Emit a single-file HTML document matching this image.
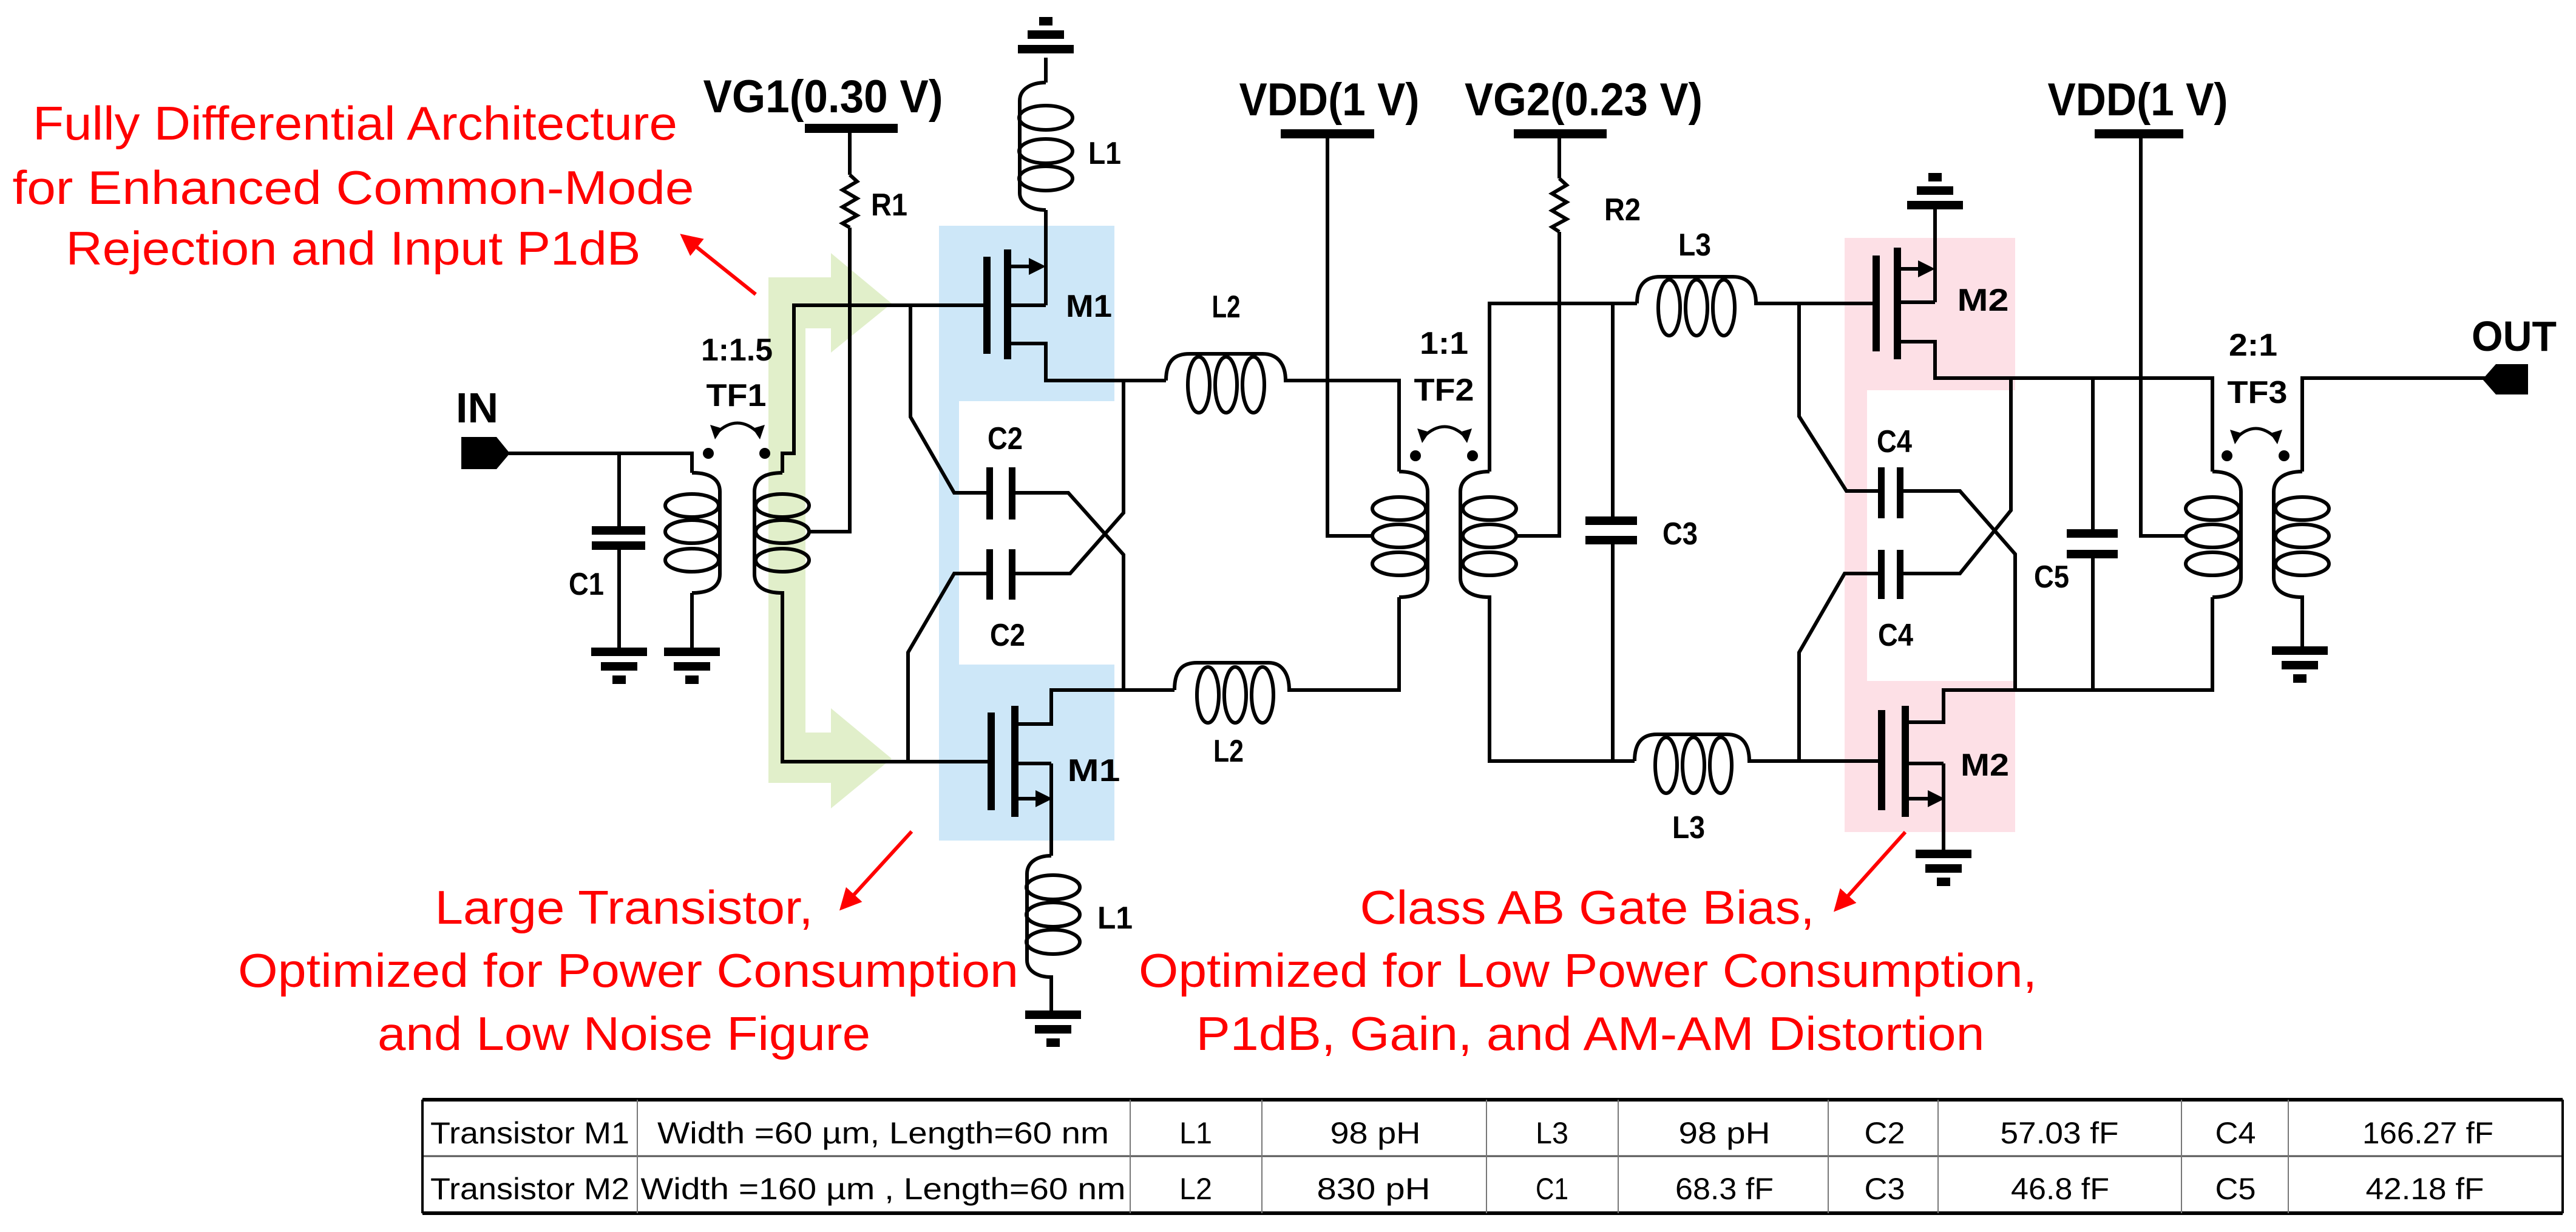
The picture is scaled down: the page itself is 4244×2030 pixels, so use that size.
<!DOCTYPE html>
<html><head><meta charset="utf-8"><style>html,body{margin:0;padding:0;background:#fff}svg{display:block}</style></head><body>
<svg xmlns="http://www.w3.org/2000/svg" width="4244" height="2030" viewBox="0 0 4244 2030">
<defs>
<marker id="ra" markerWidth="6" markerHeight="6" refX="5" refY="3" orient="auto" markerUnits="strokeWidth"><path d="M0,0 L6,3 L0,6 z" fill="#f00"/></marker>
</defs>
<rect width="4244" height="2030" fill="#fff"/>
<!-- shaded regions -->
<path d="M1547,372 H1836 V661 H1580 V1095 H1836 V1385 H1547 Z" fill="#cde7f8"/>
<path d="M3039,392 H3320 V643 H3076 V1122 H3320 V1371 H3039 Z" fill="#fde0e6"/>
<path d="M1266,457 H1369 V417 L1469,500 L1369,581 V541 H1327 V1207 H1369 V1167 L1469,1250 L1369,1332 V1290 H1266 Z" fill="#e1efca"/>

<g fill="none" stroke="#000" stroke-width="6" stroke-linejoin="miter">
<!-- IN / C1 / TF1 primary -->
<path d="M838,747 H1140 V779"/>
<path d="M1020,747 V867 M1020,906 V1074"/>
<path d="M1140,977 V1074"/>
<path d="M1140,779 C1170,779 1186,790 1186,810 V946 C1186,966 1170,977 1140,977"/>
<ellipse cx="1140" cy="833" rx="44" ry="19"/><ellipse cx="1140" cy="876" rx="44" ry="19"/><ellipse cx="1140" cy="923" rx="44" ry="19"/>
<!-- TF1 secondary -->
<path d="M1289,779 V747 H1308 V503 H1621"/>
<path d="M1289,779 C1259,779 1243,790 1243,810 V946 C1243,966 1259,977 1289,977 V1255 H1627"/>
<ellipse cx="1289" cy="833" rx="44" ry="19"/><ellipse cx="1289" cy="876" rx="44" ry="19"/><ellipse cx="1289" cy="923" rx="44" ry="19"/>
<path d="M1333,876 H1400 V375 M1400,288 V211"/>
<path d="M1400,288 L1412,299 L1388,313 L1412,327 L1388,341 L1412,355 L1388,368 L1400,375"/>
<!-- TF1 arc -->
<path d="M1180,714 Q1215,680 1250,714" stroke-width="5"/>
<!-- M1 top -->
<path d="M1723,95 V136 M1723,346 V503 M1666,503 H1723 M1666,439 H1700 M1666,566 H1723 V627 H1921"/>
<path d="M1723,136 C1700,136 1680,146 1680,166 V318 C1680,336 1700,346 1723,346"/>
<ellipse cx="1723" cy="194" rx="44" ry="20"/><ellipse cx="1723" cy="249" rx="44" ry="20"/><ellipse cx="1723" cy="294" rx="44" ry="20"/>
<!-- cross caps M1 -->
<path d="M1500,503 V687 L1572,812 H1628 M1673,812 H1760 L1851,914 V1137"/>
<path d="M1851,627 V845 L1763,945 H1673 M1628,945 H1572 L1496,1075 V1255"/>
<!-- L2 top -->
<path d="M1921,627 C1921,590 1940,583 1960,583 H2080 C2105,583 2118,600 2118,627 H2305 V777"/>
<ellipse cx="1975" cy="634" rx="18" ry="46"/><ellipse cx="2020" cy="634" rx="18" ry="46"/><ellipse cx="2065" cy="634" rx="18" ry="46"/>
<!-- M1 bottom -->
<path d="M1678,1193 H1732 V1137 H1935 M1678,1258 H1732 M1678,1316 H1710 M1732,1258 V1410"/>
<path d="M1732,1410 C1710,1410 1692,1420 1692,1440 V1582 C1692,1600 1710,1610 1732,1610 V1672"/>
<ellipse cx="1735" cy="1462" rx="44" ry="20"/><ellipse cx="1735" cy="1507" rx="44" ry="20"/><ellipse cx="1735" cy="1552" rx="44" ry="20"/>
<!-- L2 bottom -->
<path d="M1935,1137 C1935,1100 1952,1092 1972,1092 H2090 C2112,1092 2124,1110 2124,1137 H2305 V984"/>
<ellipse cx="1990" cy="1145" rx="18" ry="46"/><ellipse cx="2035" cy="1145" rx="18" ry="46"/><ellipse cx="2080" cy="1145" rx="18" ry="46"/>
<!-- TF2 -->
<path d="M2305,777 C2335,777 2352,790 2352,810 V952 C2352,972 2335,984 2305,984"/>
<ellipse cx="2305" cy="838" rx="44" ry="19"/><ellipse cx="2305" cy="883" rx="44" ry="19"/><ellipse cx="2305" cy="929" rx="44" ry="19"/>
<path d="M2454,777 C2424,777 2406,790 2406,810 V952 C2406,972 2424,984 2454,984 V1254 H2693"/>
<ellipse cx="2454" cy="838" rx="44" ry="19"/><ellipse cx="2454" cy="883" rx="44" ry="19"/><ellipse cx="2454" cy="929" rx="44" ry="19"/>
<path d="M2454,777 V500 H2697"/>
<path d="M2187,220 V883 H2261"/>
<path d="M2569,220 V294 M2569,382 V883 H2498"/>
<path d="M2569,294 L2581,305 L2557,319 L2581,333 L2557,347 L2581,361 L2557,374 L2569,382"/>
<path d="M2345,720 Q2380,686 2415,720" stroke-width="5"/>
<!-- C3 -->
<path d="M2657,500 V851 M2657,897 V1254"/>
<!-- L3 top -->
<path d="M2697,500 C2697,465 2715,456 2735,456 H2855 C2880,456 2893,472 2893,500 H3085"/>
<ellipse cx="2750" cy="507" rx="18" ry="46"/><ellipse cx="2795" cy="507" rx="18" ry="46"/><ellipse cx="2840" cy="507" rx="18" ry="46"/>
<!-- L3 bottom -->
<path d="M2693,1254 C2693,1219 2710,1210 2730,1210 H2845 C2870,1210 2882,1226 2882,1254 H3094"/>
<ellipse cx="2745" cy="1261" rx="18" ry="46"/><ellipse cx="2790" cy="1261" rx="18" ry="46"/><ellipse cx="2835" cy="1261" rx="18" ry="46"/>
<!-- M2 top -->
<path d="M3188,338 V498 M3131,498 H3188 M3131,443 H3165 M3131,563 H3188 V623 H3645 V777"/>
<!-- cross caps M2 -->
<path d="M2964,500 V686 L3042,809 H3097 M3132,809 H3229 L3320,913 V1137"/>
<path d="M3313,623 V841 L3229,945 H3132 M3097,945 H3039 L2964,1075 V1254"/>
<!-- C5 -->
<path d="M3448,623 V872 M3448,920 V1137"/>
<!-- M2 bottom -->
<path d="M3144,1190 H3202 V1137 H3645 V984 M3144,1258 H3202 M3144,1316 H3180 M3202,1258 V1407"/>
<!-- TF3 -->
<path d="M3645,777 C3675,777 3692,790 3692,810 V952 C3692,972 3675,984 3645,984"/>
<ellipse cx="3645" cy="838" rx="44" ry="19"/><ellipse cx="3645" cy="883" rx="44" ry="19"/><ellipse cx="3645" cy="929" rx="44" ry="19"/>
<path d="M3793,777 C3763,777 3746,790 3746,810 V952 C3746,972 3763,984 3793,984 V1072"/>
<ellipse cx="3793" cy="838" rx="44" ry="19"/><ellipse cx="3793" cy="883" rx="44" ry="19"/><ellipse cx="3793" cy="929" rx="44" ry="19"/>
<path d="M3793,777 V623 H4095"/>
<path d="M3527,220 V883 H3601"/>
<path d="M3684,722 Q3716,690 3750,722" stroke-width="5"/>
</g>

<g fill="#000">
<!-- IN / OUT connectors -->
<path d="M760,720 H818 L840,747 L818,773 H760 Z"/>
<path d="M4165,600 H4112 L4090,625 L4112,650 H4165 Z"/>
<!-- dots -->
<circle cx="1167" cy="747" r="9"/><circle cx="1260" cy="747" r="9"/>
<circle cx="2332" cy="751" r="9"/><circle cx="2426" cy="751" r="9"/>
<circle cx="3669" cy="751" r="9"/><circle cx="3763" cy="751" r="9"/>
<!-- arc arrowheads -->
<path d="M1170,700 L1190,706 L1178,724 Z M1260,700 L1240,706 L1252,724 Z"/>
<path d="M2335,706 L2355,712 L2343,730 Z M2425,706 L2405,712 L2417,730 Z"/>
<path d="M3674,708 L3694,714 L3682,732 Z M3760,708 L3740,714 L3752,732 Z"/>
<!-- supply bars -->
<rect x="1326" y="204" width="153" height="15"/>
<rect x="2110" y="213" width="154" height="15"/>
<rect x="2494" y="213" width="153" height="15"/>
<rect x="3451" y="213" width="146" height="15"/>
<!-- caps -->
<rect x="975" y="867" width="88" height="14"/><rect x="975" y="892" width="88" height="14"/>
<rect x="2612" y="851" width="85" height="14"/><rect x="2612" y="883" width="85" height="14"/>
<rect x="3405" y="872" width="84" height="14"/><rect x="3405" y="906" width="84" height="14"/>
<rect x="1625" y="770" width="11" height="86"/><rect x="1662" y="770" width="11" height="86"/>
<rect x="1625" y="905" width="11" height="83"/><rect x="1662" y="905" width="11" height="83"/>
<rect x="3094" y="770" width="11" height="84"/><rect x="3125" y="770" width="11" height="84"/>
<rect x="3094" y="906" width="11" height="81"/><rect x="3125" y="906" width="11" height="81"/>
<!-- transistors -->
<rect x="1620" y="423" width="12" height="160"/><rect x="1654" y="411" width="12" height="181"/>
<path d="M1695,425 L1723,439 L1695,453 Z"/>
<rect x="1627" y="1174" width="12" height="161"/><rect x="1666" y="1163" width="12" height="183"/>
<path d="M1706,1302 L1734,1316 L1706,1330 Z"/>
<rect x="3085" y="421" width="12" height="158"/><rect x="3120" y="408" width="12" height="184"/>
<path d="M3160,429 L3188,443 L3160,457 Z"/>
<rect x="3094" y="1170" width="12" height="165"/><rect x="3133" y="1163" width="12" height="183"/>
<path d="M3176,1302 L3204,1316 L3176,1330 Z"/>
<!-- grounds -->
<g id="gd"><rect x="-46" y="-7" width="92" height="14"/><rect x="-30" y="17" width="60" height="14"/><rect x="-11" y="39" width="22" height="14"/></g>
<use href="#gd" transform="translate(1020,1074)"/>
<use href="#gd" transform="translate(1140,1074)"/>
<use href="#gd" transform="translate(3789,1072)"/>
<use href="#gd" transform="translate(1735,1672)"/>
<use href="#gd" transform="translate(3202,1407)"/>
<use href="#gd" transform="translate(1723,81) scale(1,-1)"/>
<use href="#gd" transform="translate(3188,338) scale(1,-1)"/>
<!-- remove original gd at origin visibility -->
</g>
<rect x="0" y="0" width="60" height="60" fill="#fff"/>

<!-- labels -->
<g font-family="'Liberation Sans Narrow','Liberation Sans',sans-serif" font-weight="bold" fill="#000" text-anchor="middle" lengthAdjust="spacingAndGlyphs">
<text x="1356" y="185" font-size="76" textLength="395" lengthAdjust="spacingAndGlyphs">VG1(0.30 V)</text>
<text x="2190" y="190" font-size="76" textLength="297" lengthAdjust="spacingAndGlyphs">VDD(1 V)</text>
<text x="2609" y="190" font-size="76" textLength="392" lengthAdjust="spacingAndGlyphs">VG2(0.23 V)</text>
<text x="3522" y="190" font-size="76" textLength="297" lengthAdjust="spacingAndGlyphs">VDD(1 V)</text>
<text x="786" y="696" font-size="70" textLength="70" lengthAdjust="spacingAndGlyphs">IN</text>
<text x="4142" y="578" font-size="70" textLength="140" lengthAdjust="spacingAndGlyphs">OUT</text>
<g font-size="52">
<text x="1465" y="355" textLength="60" lengthAdjust="spacingAndGlyphs">R1</text>
<text x="1820" y="270" textLength="54" lengthAdjust="spacingAndGlyphs">L1</text>
<text x="1794" y="522" textLength="76" lengthAdjust="spacingAndGlyphs">M1</text>
<text x="2020" y="523" textLength="47" lengthAdjust="spacingAndGlyphs">L2</text>
<text x="1214" y="594" textLength="118" lengthAdjust="spacingAndGlyphs">1:1.5</text>
<text x="1213" y="669" textLength="99" lengthAdjust="spacingAndGlyphs">TF1</text>
<text x="966" y="980" textLength="58" lengthAdjust="spacingAndGlyphs">C1</text>
<text x="1656" y="740" textLength="58" lengthAdjust="spacingAndGlyphs">C2</text>
<text x="1660" y="1064" textLength="58" lengthAdjust="spacingAndGlyphs">C2</text>
<text x="1802" y="1287" textLength="87" lengthAdjust="spacingAndGlyphs">M1</text>
<text x="1837" y="1530" textLength="58" lengthAdjust="spacingAndGlyphs">L1</text>
<text x="2024" y="1255" textLength="50" lengthAdjust="spacingAndGlyphs">L2</text>
<text x="2379" y="583" textLength="80" lengthAdjust="spacingAndGlyphs">1:1</text>
<text x="2379" y="660" textLength="99" lengthAdjust="spacingAndGlyphs">TF2</text>
<text x="2673" y="363" textLength="60" lengthAdjust="spacingAndGlyphs">R2</text>
<text x="2792" y="421" textLength="54" lengthAdjust="spacingAndGlyphs">L3</text>
<text x="2782" y="1381" textLength="54" lengthAdjust="spacingAndGlyphs">L3</text>
<text x="2768" y="897" textLength="58" lengthAdjust="spacingAndGlyphs">C3</text>
<text x="3267" y="512" textLength="85" lengthAdjust="spacingAndGlyphs">M2</text>
<text x="3270" y="1278" textLength="80" lengthAdjust="spacingAndGlyphs">M2</text>
<text x="3121" y="745" textLength="58" lengthAdjust="spacingAndGlyphs">C4</text>
<text x="3123" y="1064" textLength="58" lengthAdjust="spacingAndGlyphs">C4</text>
<text x="3380" y="968" textLength="58" lengthAdjust="spacingAndGlyphs">C5</text>
<text x="3712" y="586" textLength="80" lengthAdjust="spacingAndGlyphs">2:1</text>
<text x="3719" y="664" textLength="99" lengthAdjust="spacingAndGlyphs">TF3</text>
</g>
</g>

<!-- red annotations -->
<g font-family="'Liberation Sans',sans-serif" fill="#f00" font-size="78" text-anchor="middle">
<text x="585" y="230" textLength="1062" lengthAdjust="spacingAndGlyphs">Fully Differential Architecture</text>
<text x="582" y="336" textLength="1123" lengthAdjust="spacingAndGlyphs">for  Enhanced  Common-Mode</text>
<text x="582" y="436" textLength="947" lengthAdjust="spacingAndGlyphs">Rejection  and  Input  P1dB</text>
<text x="1028" y="1522" textLength="623" lengthAdjust="spacingAndGlyphs">Large Transistor,</text>
<text x="1035" y="1626" textLength="1286" lengthAdjust="spacingAndGlyphs">Optimized for Power Consumption</text>
<text x="1028" y="1730" textLength="812" lengthAdjust="spacingAndGlyphs">and Low Noise Figure</text>
<text x="2615" y="1522" textLength="749" lengthAdjust="spacingAndGlyphs">Class AB Gate Bias,</text>
<text x="2616" y="1626" textLength="1480" lengthAdjust="spacingAndGlyphs">Optimized for Low Power Consumption,</text>
<text x="2620" y="1730" textLength="1299" lengthAdjust="spacingAndGlyphs">P1dB, Gain, and AM-AM Distortion</text>
</g>
<g stroke="#f00" stroke-width="6" fill="none" marker-end="url(#ra)">
<path d="M1245,485 L1125,389"/>
<path d="M1502,1370 L1387,1496"/>
<path d="M3139,1371 L3025,1498"/>
</g>

<!-- table -->
<g>
<rect x="696" y="1812" width="3526" height="187" fill="none" stroke="#888" stroke-width="2"/>
<line x1="696" y1="1812" x2="4222" y2="1812" stroke="#000" stroke-width="6"/>
<line x1="696" y1="1999" x2="4222" y2="1999" stroke="#000" stroke-width="6"/>
<line x1="696" y1="1905" x2="4222" y2="1905" stroke="#555" stroke-width="3"/>
<g stroke="#777" stroke-width="2">
<line x1="696" y1="1812" x2="696" y2="1999" stroke="#000" stroke-width="4"/>
<line x1="4222" y1="1812" x2="4222" y2="1999" stroke="#000" stroke-width="4"/>
<line x1="1050" y1="1812" x2="1050" y2="1999"/><line x1="1862" y1="1812" x2="1862" y2="1999"/>
<line x1="2079" y1="1812" x2="2079" y2="1999"/><line x1="2449" y1="1812" x2="2449" y2="1999"/>
<line x1="2666" y1="1812" x2="2666" y2="1999"/><line x1="3012" y1="1812" x2="3012" y2="1999"/>
<line x1="3193" y1="1812" x2="3193" y2="1999"/><line x1="3594" y1="1812" x2="3594" y2="1999"/>
<line x1="3770" y1="1812" x2="3770" y2="1999"/>
</g>
<g font-family="'Liberation Sans Narrow','Liberation Sans',sans-serif" font-size="50" fill="#000" text-anchor="middle">
<text x="873" y="1884" textLength="328" lengthAdjust="spacingAndGlyphs">Transistor M1</text>
<text x="1455" y="1884" textLength="744" lengthAdjust="spacingAndGlyphs">Width =60 µm, Length=60 nm</text>
<text x="1970" y="1884" textLength="54" lengthAdjust="spacingAndGlyphs">L1</text>
<text x="2266" y="1884" textLength="149" lengthAdjust="spacingAndGlyphs">98 pH</text>
<text x="2557" y="1884" textLength="54" lengthAdjust="spacingAndGlyphs">L3</text>
<text x="2841" y="1884" textLength="151" lengthAdjust="spacingAndGlyphs">98 pH</text>
<text x="3105" y="1884" textLength="67" lengthAdjust="spacingAndGlyphs">C2</text>
<text x="3393" y="1884" textLength="195" lengthAdjust="spacingAndGlyphs">57.03 fF</text>
<text x="3683" y="1884" textLength="67" lengthAdjust="spacingAndGlyphs">C4</text>
<text x="4000" y="1884" textLength="216" lengthAdjust="spacingAndGlyphs">166.27 fF</text>
<text x="873" y="1976" textLength="328" lengthAdjust="spacingAndGlyphs">Transistor M2</text>
<text x="1455" y="1976" textLength="799" lengthAdjust="spacingAndGlyphs">Width =160 µm , Length=60 nm</text>
<text x="1970" y="1976" textLength="54" lengthAdjust="spacingAndGlyphs">L2</text>
<text x="2263" y="1976" textLength="187" lengthAdjust="spacingAndGlyphs">830 pH</text>
<text x="2557" y="1976" textLength="54" lengthAdjust="spacingAndGlyphs">C1</text>
<text x="2841" y="1976" textLength="162" lengthAdjust="spacingAndGlyphs">68.3 fF</text>
<text x="3105" y="1976" textLength="67" lengthAdjust="spacingAndGlyphs">C3</text>
<text x="3394" y="1976" textLength="162" lengthAdjust="spacingAndGlyphs">46.8 fF</text>
<text x="3683" y="1976" textLength="67" lengthAdjust="spacingAndGlyphs">C5</text>
<text x="3995" y="1976" textLength="195" lengthAdjust="spacingAndGlyphs">42.18 fF</text>
</g>
</g>
</svg>
</body></html>
